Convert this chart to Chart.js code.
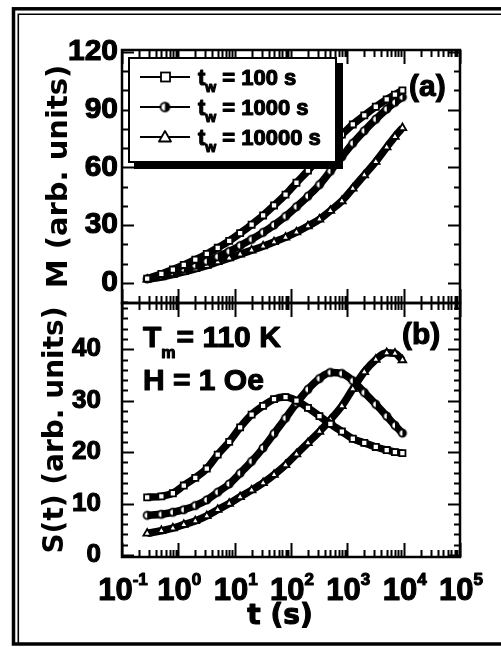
<!DOCTYPE html>
<html>
<head>
<meta charset="utf-8">
<script src="https://cdn.jsdelivr.net/npm/chart.js@4.4.1/dist/chart.umd.min.js"></script>
<style>
  html, body { margin: 0; padding: 0; background: #fff; }
  #wrap { position: relative; width: 501px; height: 647px; overflow: hidden; background: #fff; }
  #wrap canvas { position: absolute; left: 0; top: 0; }
</style>
</head>
<body>
<div id="wrap">
  <canvas id="panelM" width="501" height="647"></canvas>
  <canvas id="panelS" width="501" height="647"></canvas>
</div>
<script>
// Elapsed time after the field step (s)
const times = [0.28, 0.5, 0.8, 1.25, 2, 3.2, 5, 8, 12.5, 20, 32, 50, 80, 125,
               200, 320, 500, 800, 1250, 2000, 3200, 5000, 7000, 9500];

// Waiting times of the three runs (s)
const waitTimes = ['100', '1000', '10000'];

// (a) ZFC magnetization M(t), arb. units
const mTw100   = [2.2, 4.6, 6.9, 9.3, 12.0, 15.0, 18.2, 21.8, 25.8, 30.2, 35.0, 40.2,
                  45.8, 52.0, 58.3, 65.0, 71.5, 77.0, 82.3, 87.0, 91.5, 95.3, 97.8, 100.0];
const mTw1000  = [2.0, 3.8, 5.5, 7.3, 9.1, 11.2, 13.6, 16.3, 19.3, 22.6, 26.2, 30.0,
                  34.5, 39.5, 45.0, 51.0, 58.0, 65.5, 72.5, 79.0, 85.0, 90.3, 93.8, 96.5];
const mTw10000 = [1.8, 3.0, 4.3, 5.7, 7.2, 8.9, 10.8, 12.8, 14.8, 16.9, 19.0, 21.2,
                  23.6, 26.3, 29.5, 33.0, 37.5, 42.5, 49.0, 56.0, 63.0, 70.5, 76.0, 80.5];

// (b) relaxation rate S(t), arb. units
const sTw100   = [11.2, 11.4, 12.0, 13.5, 15.0, 16.8, 19.5, 22.0, 24.8, 27.3, 29.0, 30.3,
                  30.7, 30.0, 28.6, 27.0, 25.5, 24.0, 22.6, 21.8, 21.0, 20.4, 20.0, 19.8];
const sTw1000  = [7.7, 7.9, 8.3, 8.8, 9.6, 10.7, 12.2, 13.8, 15.9, 18.2, 20.8, 23.6,
                  26.6, 29.5, 32.2, 34.3, 35.5, 35.3, 33.9, 31.6, 29.3, 27.0, 25.2, 23.7];
const sTw10000 = [4.2, 4.7, 5.2, 5.9, 6.6, 7.6, 8.8, 10.0, 11.3, 12.6, 14.0, 15.6,
                  17.5, 19.6, 21.8, 24.0, 26.3, 29.0, 32.3, 35.6, 38.0, 39.3, 39.2, 37.9];

// Axis ticks
const xTickValues = [0.1, 1, 10, 100, 1000, 10000, 100000];
const xTickExponents = ['-1', '0', '1', '2', '3', '4', '5'];
const yTicksM = [0, 30, 60, 90, 120];
const yTicksS = [0, 10, 20, 30, 40];

const SANS = '"Liberation Sans", Arial, Helvetica, sans-serif';
const WIDE = '"DejaVu Sans", sans-serif';
const HEAVY = 1.1;   // extra outline on the bold lettering

// half-filled circle marker
function halfDisc(r, lw) {
  const c = document.createElement('canvas');
  const s = Math.ceil(2 * r + 4);
  c.width = c.height = s;
  const g = c.getContext('2d');
  const m = s / 2;
  g.beginPath(); g.arc(m, m, r, 0, 2 * Math.PI); g.fillStyle = '#fff'; g.fill();
  g.beginPath(); g.moveTo(m, m - r); g.arc(m, m, r, -Math.PI / 2, Math.PI / 2); g.closePath();
  g.fillStyle = '#000'; g.fill();
  g.beginPath(); g.arc(m, m, r, 0, 2 * Math.PI); g.lineWidth = lw; g.strokeStyle = '#000'; g.stroke();
  return c;
}
const halfDot = halfDisc(3.6, 1.8);
const legendDot = halfDisc(4.4, 1.8);
const markerStyles = ['rect', halfDot, 'triangle'];
const markerRadius = [4.3, 3.6, 4.4];

function series(values, i) {
  return {
    label: 't_w = ' + waitTimes[i] + ' s',
    data: times.map((t, k) => ({ x: t, y: values[k] })),
    borderColor: '#000',
    borderWidth: 7.5,
    cubicInterpolationMode: 'monotone',
    pointStyle: markerStyles[i],
    pointRadius: markerRadius[i],
    pointBackgroundColor: '#fff',
    pointBorderColor: '#000',
    pointBorderWidth: 1.8,
    fill: false
  };
}

// heavy text: fill plus thin outline
function heavyText(ctx, s, x, y) {
  ctx.fillText(s, x, y);
  ctx.lineWidth = HEAVY;
  ctx.strokeStyle = '#000';
  ctx.lineJoin = 'round';
  ctx.strokeText(s, x, y);
}

// text with a subscript part
function subText(ctx, x, y, base, sub, rest, size, subSize, drop, gap) {
  ctx.font = 'bold ' + size + 'px ' + SANS;
  heavyText(ctx, base, x, y);
  x += ctx.measureText(base).width;
  ctx.font = 'bold ' + subSize + 'px ' + SANS;
  heavyText(ctx, sub, x, y + drop);
  x += ctx.measureText(sub).width + gap;
  ctx.font = 'bold ' + size + 'px ' + SANS;
  heavyText(ctx, rest, x, y);
}

// inward ticks on all four sides plus the box
const frameTicks = {
  id: 'frameTicks',
  afterDatasetsDraw(chart, args, opts) {
    const { ctx, chartArea: a } = chart;
    const xs = chart.scales.x, ys = chart.scales.y;
    ctx.save();
    ctx.strokeStyle = '#000';
    ctx.lineWidth = 2;
    ctx.beginPath();
    for (let e = -1; e <= 5; e++) {
      for (let m = 1; m <= 9; m++) {
        const v = m * Math.pow(10, e);
        if (v < xs.min * 0.999 || v > xs.max * 1.001) continue;
        const px = Math.round(xs.getPixelForValue(v)) + 0.5;
        const len = m === 1 ? 14 : 7;
        ctx.moveTo(px, a.bottom); ctx.lineTo(px, a.bottom - len);
        ctx.moveTo(px, a.top); ctx.lineTo(px, a.top + len);
      }
    }
    const n0 = Math.ceil(ys.min / opts.minor), n1 = Math.floor(ys.max / opts.minor);
    for (let n = n0; n <= n1; n++) {
      const v = n * opts.minor;
      const py = Math.round(ys.getPixelForValue(v)) + 0.5;
      const len = (v % opts.major === 0) ? 12 : 6;
      ctx.moveTo(a.left, py); ctx.lineTo(a.left + len, py);
      ctx.moveTo(a.right, py); ctx.lineTo(a.right - len, py);
    }
    ctx.stroke();
    ctx.lineWidth = 2.5;
    ctx.strokeRect(a.left, a.top, a.right - a.left, a.bottom - a.top);
    ctx.restore();
  }
};

// legend box with drop shadow inside panel (a)
const legendBox = {
  id: 'legendBox',
  afterDraw(chart) {
    const ctx = chart.ctx;
    const bx = 128, by = 57, bw = 209, bh = 106;
    ctx.save();
    ctx.fillStyle = '#000';
    ctx.fillRect(bx + 6, by + 6, bw, bh);
    ctx.fillStyle = '#fff';
    ctx.fillRect(bx, by, bw, bh);
    ctx.strokeStyle = '#000';
    ctx.lineWidth = 2;
    ctx.strokeRect(bx + 1, by + 1, bw - 2, bh - 2);
    const rows = [77, 107, 137];
    chart.data.datasets.forEach((ds, i) => {
      const y = rows[i];
      ctx.strokeStyle = '#000';
      ctx.lineWidth = 2;
      ctx.beginPath(); ctx.moveTo(140, y); ctx.lineTo(190, y); ctx.stroke();
      ctx.lineWidth = 1.8;
      ctx.fillStyle = '#fff';
      if (i === 0) {
        ctx.fillRect(161, y - 4.5, 9, 9); ctx.strokeRect(161, y - 4.5, 9, 9);
      } else if (i === 1) {
        ctx.drawImage(legendDot, 165 - legendDot.width / 2, y - legendDot.height / 2);
      } else {
        ctx.beginPath(); ctx.moveTo(165, y - 6); ctx.lineTo(171, y + 4.5); ctx.lineTo(159, y + 4.5); ctx.closePath();
        ctx.fill(); ctx.stroke();
      }
      ctx.fillStyle = '#000';
      ctx.textBaseline = 'alphabetic';
      ctx.textAlign = 'left';
      subText(ctx, 198, y + 8, 't', 'w', ' = ' + waitTimes[i] + ' s', 22, 14, 7, 0);
    });
    ctx.font = 'bold 30px ' + SANS;
    ctx.textBaseline = 'middle';
    heavyText(ctx, '(a)', 409, 88);
    ctx.restore();
  }
};

// double frame round the whole figure
const outerFrame = {
  id: 'outerFrame',
  afterDraw(chart) {
    const ctx = chart.ctx;
    ctx.save();
    ctx.strokeStyle = '#000';
    ctx.lineWidth = 3.5;
    ctx.strokeRect(13.5, 8.8, 530, 635.2);
    ctx.lineWidth = 1.6;
    ctx.beginPath(); ctx.moveTo(18.3, 644); ctx.lineTo(18.3, 14.2); ctx.lineTo(520, 14.2); ctx.stroke();
    ctx.restore();
  }
};

// annotations and decade labels of panel (b)
const panelBText = {
  id: 'panelBText',
  afterDraw(chart) {
    const ctx = chart.ctx;
    const xs = chart.scales.x;
    ctx.save();
    ctx.fillStyle = '#000';
    ctx.textAlign = 'left';
    ctx.textBaseline = 'alphabetic';
    subText(ctx, 143, 347, 'T', 'm', '= 110 K', 30, 16, 11, 1);
    ctx.font = 'bold 30px ' + SANS;
    heavyText(ctx, 'H = 1 Oe', 143, 390);
    ctx.textBaseline = 'middle';
    heavyText(ctx, '(b)', 402, 336);
    ctx.textBaseline = 'alphabetic';
    xTickValues.forEach((v, i) => {
      const px = xs.getPixelForValue(v);
      ctx.font = 'bold 31px ' + SANS;
      const wb = ctx.measureText('10').width;
      ctx.font = 'bold 17px ' + SANS;
      const we = ctx.measureText(xTickExponents[i]).width;
      const x0 = px - (wb + we) / 2 + 1;
      ctx.font = 'bold 31px ' + SANS;
      heavyText(ctx, '10', x0, 600);
      ctx.font = 'bold 17px ' + SANS;
      heavyText(ctx, xTickExponents[i], x0 + wb, 585);
    });
    ctx.font = 'bold 28px ' + WIDE;
    ctx.textAlign = 'center';
    heavyText(ctx, 't (s)', 280, 624);
    ctx.restore();
  }
};

function yAxis(ticks, min, max, title, titleSize, tickSize, tickPad, titlePad) {
  return {
    min: min, max: max,
    afterBuildTicks: s => { s.ticks = ticks.map(v => ({ value: v })); },
    afterFit: s => { s.width = 122; },
    grid: { display: false, drawTicks: false },
    border: { display: false },
    ticks: { color: '#000', padding: tickPad, textStrokeColor: '#000', textStrokeWidth: HEAVY,
             font: { family: SANS, size: tickSize, weight: 'bold' } },
    title: { display: true, text: title, color: '#000', padding: { top: titlePad, bottom: 0 },
             font: { family: WIDE, size: titleSize, weight: 'bold' } }
  };
}

const common = {
  responsive: false,
  animation: false,
  devicePixelRatio: 1,
  events: []
};

new Chart(document.getElementById('panelM'), {
  type: 'line',
  data: { datasets: [series(mTw100, 0), series(mTw1000, 1), series(mTw10000, 2)] },
  options: Object.assign({}, common, {
    layout: { padding: { left: 0, top: 50, right: 41, bottom: 344 } },
    plugins: { legend: { display: false }, tooltip: { enabled: false },
               frameTicks: { minor: 10, major: 30 } },
    scales: {
      x: { type: 'logarithmic', min: 0.1, max: 100000, display: false },
      y: yAxis(yTicksM, -10.5, 121, 'M (arb. units)', 29, 30, 4, 42)
    }
  }),
  plugins: [frameTicks, legendBox, outerFrame]
});

new Chart(document.getElementById('panelS'), {
  type: 'line',
  data: { datasets: [series(sTw100, 0), series(sTw1000, 1), series(sTw10000, 2)] },
  options: Object.assign({}, common, {
    layout: { padding: { left: 0, top: 303, right: 41, bottom: 10 } },
    plugins: { legend: { display: false }, tooltip: { enabled: false },
               frameTicks: { minor: 2, major: 10 } },
    scales: {
      x: { type: 'logarithmic', min: 0.1, max: 100000,
           afterFit: s => { s.height = 80; },
           grid: { display: false, drawTicks: false }, border: { display: false },
           ticks: { display: false } },
      y: yAxis(yTicksS, -0.4, 49, 'S(t) (arb. units)', 28, 26, 21, 39)
    }
  }),
  plugins: [frameTicks, panelBText]
});
</script>
</body>
</html>
